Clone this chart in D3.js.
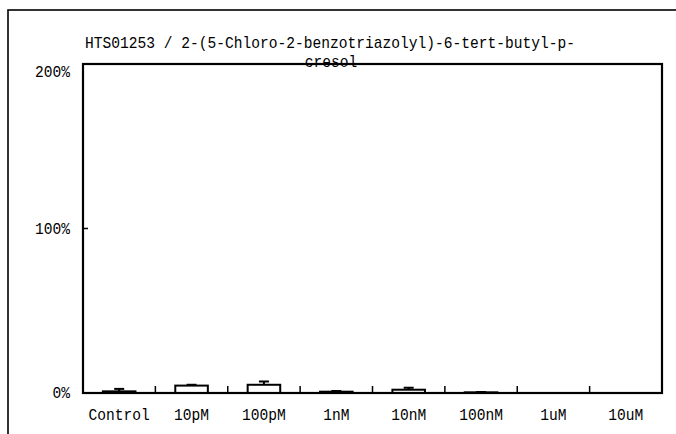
<!DOCTYPE html>
<html><head><meta charset="utf-8">
<script src="https://cdn.jsdelivr.net/npm/d3@7"></script>
<style>body{margin:0;background:#fff}svg{display:block}text{font-family:"Liberation Mono",monospace;fill:#000;font-size:17px}</style>
</head><body><svg id="c" width="676" height="434"></svg>
<script>
const categories = ["Control","10pM","100pM","1nM","10nM","100nM","1uM","10uM"];
const means = [1, 4.5, 5, 0.8, 2, 0.4, 0, 0];
const errors = [1.5, 0.5, 2, 0.4, 1.2, 0.2, 0, 0];
const yTicks = [0, 100, 200];
const yTickLabels = ["0%", "100%", "200%"];
const titleLines = ["HTS01253 / 2-(5-Chloro-2-benzotriazolyl)-6-tert-butyl-p-", "cresol"];

const svg = d3.select("#c");
const m = {left: 83, right: 662, top: 64, bottom: 393};
const cw = 8.75;
function txt(s, xx, yy, anchor) {
  return svg.append("text").attr("x", xx).attr("y", yy).attr("text-anchor", anchor)
    .attr("textLength", s.length * cw).attr("lengthAdjust", "spacingAndGlyphs").text(s);
}

svg.append("rect").attr("x", 8).attr("y", 10).attr("width", 720).attr("height", 500)
  .attr("fill", "none").attr("stroke", "#000").attr("stroke-width", 1.6);

const x = d3.scaleBand().domain(categories).range([m.left, m.right]).paddingInner(0).paddingOuter(0);
const y = d3.scaleLinear().domain([0, 200]).range([m.bottom, m.top]);

// title
txt(titleLines[0], 330, 48, "middle");
txt(titleLines[1], 331, 67, "middle");

// bars
const bw = x.bandwidth() * 0.45;
const g = svg.append("g");
categories.forEach((c, i) => {
  const cx = x(c) + x.bandwidth() / 2;
  g.append("rect").attr("x", cx - bw / 2).attr("y", y(means[i]))
    .attr("width", bw).attr("height", Math.max(0, y(0) - y(means[i])))
    .attr("fill", "#fff").attr("stroke", "#000").attr("stroke-width", 2);
  if (errors[i] > 0) {
    g.append("line").attr("x1", cx).attr("x2", cx).attr("y1", y(means[i])).attr("y2", y(means[i] + errors[i]))
      .attr("stroke", "#000").attr("stroke-width", 2);
    g.append("line").attr("x1", cx - 5).attr("x2", cx + 5).attr("y1", y(means[i] + errors[i])).attr("y2", y(means[i] + errors[i]))
      .attr("stroke", "#000").attr("stroke-width", 2);
  }
});

// frame
svg.append("rect").attr("x", m.left).attr("y", m.top).attr("width", m.right - m.left).attr("height", m.bottom - m.top)
  .attr("fill", "none").attr("stroke", "#000").attr("stroke-width", 2.2);

// x ticks (inside, at boundaries)
categories.slice(1).forEach(c => {
  svg.append("line").attr("x1", x(c)).attr("x2", x(c)).attr("y1", m.bottom).attr("y2", m.bottom - 7)
    .attr("stroke", "#000").attr("stroke-width", 1.5);
});
// x labels
categories.forEach(c => txt(c, x(c) + x.bandwidth() / 2, 420, "middle"));

// y ticks & labels
yTicks.forEach((v, i) => {
  svg.append("line").attr("x1", m.left).attr("x2", m.left + 5).attr("y1", y(v)).attr("y2", y(v))
    .attr("stroke", "#000").attr("stroke-width", 1.5);
  txt(yTickLabels[i], 70, Math.max(y(v), 72) + 5, "end");
});
</script></body></html>
